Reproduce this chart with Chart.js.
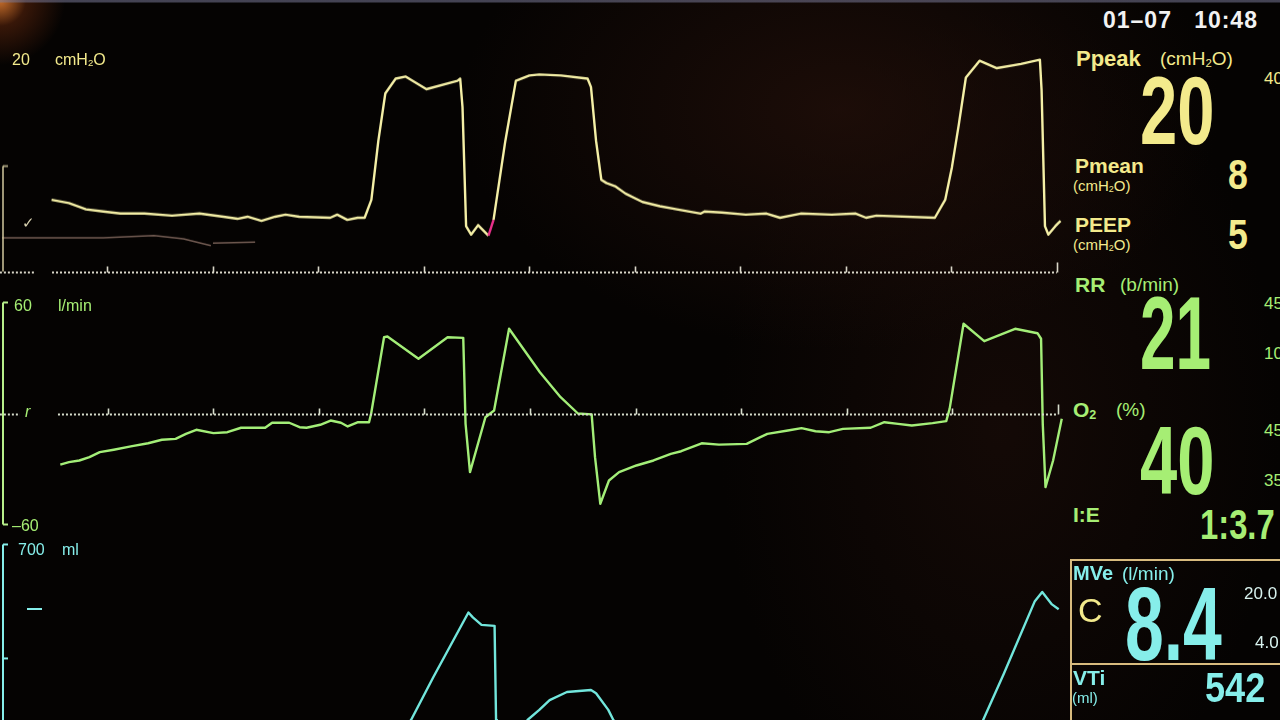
<!DOCTYPE html>
<html>
<head>
<meta charset="utf-8">
<script src="https://cdn.jsdelivr.net/npm/chart.js@4.4.1/dist/chart.umd.min.js"></script>
<style>
  html, body { margin: 0; padding: 0; }
  body {
    width: 1280px; height: 720px; overflow: hidden; position: relative;
    font-family: "Liberation Sans", Arial, sans-serif;
    background:
      linear-gradient(to bottom, rgba(120,120,150,0.55) 0, rgba(120,120,150,0.55) 2px, rgba(0,0,0,0) 3px),
      radial-gradient(circle at 0 0, rgba(235,130,50,0.85) 0, rgba(150,60,20,0.35) 26px, rgba(0,0,0,0) 65px),
      radial-gradient(ellipse 380px 240px at 840px 110px, rgba(36,16,10,0.75), rgba(0,0,0,0)),
      radial-gradient(ellipse 280px 420px at 1000px 430px, rgba(26,12,8,0.7), rgba(0,0,0,0)),
      #050302;
  }
  .panel { position: absolute; left: 0; width: 1070px; }
  .t { position: absolute; line-height: 1; white-space: nowrap; }
  .b { font-weight: bold; }
  .big { font-weight: bold; display: inline-block; transform-origin: 0 0; }
  sub { font-size: 60%; vertical-align: -0.15em; line-height: 0; }
  .y { color: #f3ea8c; }
  .g { color: #a6ee74; }
  .c { color: #86eeea; }
  .w { color: #f2f2f2; }
  #mveBox { position: absolute; left: 1070px; top: 559px; width: 220px; height: 200px;
            border: 2px solid #d8bb7e; box-sizing: border-box; }
  #mveDiv { position: absolute; left: 1070px; top: 663px; width: 220px; height: 0;
            border-top: 2px solid #d8bb7e; }
</style>
</head>
<body>

<div class="panel" style="top:49.4px;height:233.2px"><canvas id="chartPressure"></canvas></div>
<div class="panel" style="top:283.5px;height:259px"><canvas id="chartFlow"></canvas></div>
<div class="panel" style="top:526.6px;height:262.9px"><canvas id="chartVolume"></canvas></div>

<!-- waveform scale labels -->
<div class="t y" style="left:12px;top:52px;font-size:16px">20</div>
<div class="t y" style="left:55px;top:52px;font-size:16px">cmH<sub>2</sub>O</div>
<div class="t" style="left:22px;top:215px;font-size:15px;color:#d8d2b0">✓</div>
<div class="t g" style="left:14px;top:298px;font-size:16px">60</div>
<div class="t g" style="left:58px;top:298px;font-size:16px">l/min</div>
<div class="t g" style="left:25px;top:404px;font-size:16px;font-style:italic">r</div>
<div class="t g" style="left:12px;top:518px;font-size:16px">–60</div>
<div class="t c" style="left:18px;top:542px;font-size:16px">700</div>
<div class="t c" style="left:62px;top:542px;font-size:16px">ml</div>
<div style="position:absolute;left:27px;top:608px;width:15px;border-top:2px solid #86eeea"></div>

<!-- numeric readouts -->
<div class="t w b" style="left:1103px;top:9px;font-size:23px;letter-spacing:1px">01–07&nbsp;&nbsp;&nbsp;10:48</div>

<div class="t y b" style="left:1076px;top:48px;font-size:22px">Ppeak</div>
<div class="t y" style="left:1160px;top:49px;font-size:19px">(cmH<sub>2</sub>O)</div>
<div class="t y" style="left:1264px;top:70px;font-size:17px">40</div>
<div class="t y" style="left:1140px;top:62px;font-size:97px"><span class="big" style="transform:scaleX(0.69)">20</span></div>

<div class="t y b" style="left:1075px;top:155px;font-size:21px">Pmean</div>
<div class="t y" style="left:1073px;top:178px;font-size:15px">(cmH<sub>2</sub>O)</div>
<div class="t y" style="left:1228px;top:154px;font-size:42px"><span class="big" style="transform:scaleX(0.85)">8</span></div>

<div class="t y b" style="left:1075px;top:214px;font-size:21px">PEEP</div>
<div class="t y" style="left:1073px;top:237px;font-size:15px">(cmH<sub>2</sub>O)</div>
<div class="t y" style="left:1228px;top:214px;font-size:42px"><span class="big" style="transform:scaleX(0.85)">5</span></div>

<div class="t g b" style="left:1075px;top:274px;font-size:21px">RR</div>
<div class="t g" style="left:1120px;top:275px;font-size:19px">(b/min)</div>
<div class="t g" style="left:1264px;top:295px;font-size:17px">45</div>
<div class="t g" style="left:1264px;top:345px;font-size:17px">10</div>
<div class="t g" style="left:1140px;top:282px;font-size:103px"><span class="big" style="transform:scaleX(0.62)">21</span></div>

<div class="t g b" style="left:1073px;top:399px;font-size:21px">O<sub>2</sub></div>
<div class="t g" style="left:1116px;top:400px;font-size:19px">(%)</div>
<div class="t g" style="left:1264px;top:422px;font-size:17px">45</div>
<div class="t g" style="left:1264px;top:472px;font-size:17px">35</div>
<div class="t g" style="left:1140px;top:412px;font-size:97px"><span class="big" style="transform:scaleX(0.69)">40</span></div>

<div class="t g b" style="left:1073px;top:504px;font-size:21px">I:E</div>
<div class="t g" style="left:1200px;top:504px;font-size:42px"><span class="big" style="transform:scaleX(0.78)">1:3.7</span></div>

<div id="mveBox"></div>
<div id="mveDiv"></div>
<div class="t c b" style="left:1073px;top:563px;font-size:20px">MVe</div>
<div class="t c" style="left:1122px;top:564px;font-size:19px">(l/min)</div>
<div class="t y" style="left:1078px;top:593px;font-size:34px">C</div>
<div class="t c" style="left:1125px;top:572px;font-size:104px"><span class="big" style="transform:scaleX(0.67)">8.4</span></div>
<div class="t" style="left:1244px;top:585px;font-size:17px;color:#d8f2ee">20.0</div>
<div class="t" style="left:1255px;top:634px;font-size:17px;color:#d8f2ee">4.0</div>

<div class="t c b" style="left:1073px;top:667px;font-size:21px">VTi</div>
<div class="t c" style="left:1072px;top:690px;font-size:15px">(ml)</div>
<div class="t c" style="left:1205px;top:667px;font-size:42px"><span class="big" style="transform:scaleX(0.86)">542</span></div>

<script>
// sweep time axis, seconds
const timeTicks = [0.5, 1.0, 1.5, 2.0, 2.5, 3.0, 3.5, 4.0, 4.5, 5.0];

// airway pressure, cmH2O
const pressureTime = [0.235, 0.317, 0.398, 0.480, 0.561, 0.675, 0.806, 0.936, 1.050, 1.116, 1.164,
  1.230, 1.295, 1.344, 1.409, 1.556, 1.589, 1.637, 1.686, 1.719,
  1.751, 1.784, 1.817, 1.866, 1.914, 2.012, 2.159, 2.172, 2.183, 2.200, 2.224, 2.257, 2.306, 2.330,
  2.386, 2.436, 2.500, 2.547, 2.65, 2.776, 2.792, 2.816, 2.841, 2.865, 2.906, 2.955, 3.036, 3.118,
  3.199, 3.313, 3.330, 3.411, 3.526, 3.624, 3.688, 3.786, 3.933, 4.047, 4.096, 4.145, 4.422,
  4.471, 4.503, 4.536, 4.569, 4.634, 4.716, 4.830, 4.920,
  4.928, 4.944, 4.960, 4.993, 5.018];
const pressureValues = [6.8, 6.5, 5.9, 5.7, 5.5, 5.5, 5.3, 5.5, 5.2, 5.0, 5.2,
  4.8, 5.2, 5.4, 5.2, 5.1, 5.4, 4.9, 5.1, 5.1,
  6.8, 12.4, 16.9, 18.3, 18.5, 17.3, 18.1, 18.3, 15.6, 4.3, 3.5, 4.4, 3.4, 4.9,
  12.4, 18.1, 18.6, 18.7, 18.6, 18.3, 17.5, 12.4, 8.7, 8.4, 8.1, 7.4, 6.6, 6.2,
  5.9, 5.5, 5.7, 5.6, 5.4, 5.5, 5.1, 5.5, 5.4, 5.5, 5.1, 5.3, 5.1,
  6.8, 9.9, 14.0, 18.4, 20.0, 19.3, 19.7, 20.1,
  17.2, 4.3, 3.5, 4.3, 4.8];
// fading remnant of the previous sweep
const ghostTime = [0.0, 0.48, 0.72, 0.86, 0.99, 0.995, 1.0, 1.2];
const ghostValues = [3.2, 3.2, 3.4, 3.1, 2.45, null, 2.7, 2.8];
const triggerWindow = [2.30, 2.345];

// flow, l/min
const flowTime = [0.276, 0.317, 0.366, 0.414, 0.463, 0.529, 0.610, 0.692, 0.757, 0.822, 0.871,
  0.920, 1.001, 1.067, 1.132, 1.246, 1.279, 1.360, 1.409, 1.442, 1.507, 1.556, 1.605, 1.637,
  1.686, 1.738, 1.748, 1.809, 1.825, 1.972, 2.110, 2.184, 2.195, 2.216, 2.289,
  2.330, 2.401, 2.547, 2.645, 2.727, 2.792, 2.808, 2.833, 2.874, 2.922, 3.004, 3.085, 3.167,
  3.216, 3.313, 3.395, 3.526, 3.591, 3.624, 3.721, 3.786, 3.852, 3.917, 3.982, 4.113, 4.178,
  4.243, 4.308, 4.406, 4.471, 4.487, 4.553, 4.651, 4.797, 4.903, 4.920,
  4.928, 4.941, 4.977, 5.018];
const flowValues = [-27.6, -26.3, -25.4, -23.6, -20.9, -19.6, -17.8, -16.1, -14.2, -13.7, -11.0,
  -8.8, -10.6, -10.1, -7.7, -7.7, -5.0, -5.0, -7.4, -7.7, -6.1, -3.8, -5.0, -7.0,
  -4.7, -4.7, 0, 41.2, 41.6, 29.6, 41.2, 40.9, -5.6, -31.7, -2.0,
  1.6, 45.8, 22.3, 8.8, 0, -0.5, -23.6, -48.8, -36.2, -31.7, -28.1, -25.4, -21.8,
  -20.4, -16.1, -16.8, -16.4, -12.8, -11.0, -9.2, -7.9, -9.6, -10.1, -8.3, -7.7, -4.7,
  -5.6, -6.5, -5.2, -4.1, 2.5, 48.5, 39.1, 45.8, 43.4, 40.4,
  -5.6, -39.8, -25.4, -2.9];

// volume, ml
const volumeTime = [0.235, 1.766, 1.939, 2.045, 2.211, 2.232, 2.273, 2.335, 2.342, 2.346, 2.358,
  2.491, 2.547, 2.596, 2.678, 2.792, 2.816, 2.874, 2.898, 3.068, 4.536, 4.651, 4.749, 4.896,
  4.931, 4.977, 5.009];
const volumeValues = [0, 0, 161, 293, 491, 476, 453, 450, 161, 0, 0,
  161, 192, 222, 247, 253, 243, 192, 161, 0, 0, 161, 303, 526,
  554, 516, 501];

const X_MAX = 5.057;

function toPoints(xs, ys) {
  return xs.map((x, i) => ({ x: x, y: ys[i] }));
}

// dotted zero line, time ticks and the scale bracket on the left
const monitorDecor = {
  id: 'monitorDecor',
  afterDatasetsDraw(chart, args, opts) {
    const ctx = chart.ctx;
    const xs = chart.scales.x, ys = chart.scales.y;
    ctx.save();
    if (opts.baseline) {
      const yb = Math.round(ys.getPixelForValue(0)) + 0.5;
      ctx.strokeStyle = opts.baseline.color;
      ctx.lineWidth = 2;
      ctx.setLineDash([2, 2]);
      opts.baseline.spans.forEach(s => {
        ctx.beginPath();
        ctx.moveTo(xs.getPixelForValue(s[0]), yb);
        ctx.lineTo(xs.getPixelForValue(s[1]), yb);
        ctx.stroke();
      });
      ctx.setLineDash([]);
      ctx.lineWidth = 1.6;
      timeTicks.forEach((t, i) => {
        const px = Math.round(xs.getPixelForValue(t)) + 0.5;
        const h = i === timeTicks.length - 1 ? 10 : 6;
        ctx.beginPath();
        ctx.moveTo(px, yb);
        ctx.lineTo(px, yb - h);
        ctx.stroke();
      });
    }
    if (opts.bracket) {
      const br = opts.bracket;
      const bx = chart.chartArea.left + 1;
      ctx.strokeStyle = br.color;
      ctx.lineWidth = 2;
      ctx.beginPath();
      ctx.moveTo(bx, ys.getPixelForValue(br.from));
      ctx.lineTo(bx, ys.getPixelForValue(br.to));
      ctx.stroke();
      br.serifs.forEach(v => {
        const py = ys.getPixelForValue(v);
        ctx.beginPath();
        ctx.moveTo(bx, py);
        ctx.lineTo(bx + 5, py);
        ctx.stroke();
      });
    }
    ctx.restore();
  }
};

function monitorOptions(yMin, yMax, decor) {
  return {
    responsive: true,
    maintainAspectRatio: false,
    animation: false,
    events: [],
    layout: { padding: { left: 2, right: 0, top: 0, bottom: 0 } },
    elements: { point: { radius: 0 }, line: { tension: 0, borderJoinStyle: 'round' } },
    scales: {
      x: { type: 'linear', display: false, min: 0, max: X_MAX },
      y: { display: false, min: yMin, max: yMax }
    },
    plugins: { legend: { display: false }, tooltip: { enabled: false }, monitorDecor: decor }
  };
}

new Chart(document.getElementById('chartPressure'), {
  type: 'line',
  data: {
    datasets: [
      {
        label: 'ghost',
        data: toPoints(ghostTime, ghostValues),
        borderColor: 'rgba(205,165,150,0.55)',
        borderWidth: 1.5,
        spanGaps: false,
        clip: false
      },
      {
        label: 'Paw',
        data: toPoints(pressureTime, pressureValues),
        borderColor: '#f4efa6',
        borderWidth: 2.4,
        clip: false,
        segment: {
          borderColor: c => (c.p0.parsed.x >= triggerWindow[0] && c.p1.parsed.x <= triggerWindow[1]) ? '#e8308a' : undefined
        }
      }
    ]
  },
  options: monitorOptions(-1, 21, {
    baseline: { color: '#d9d6c8', spans: [[-0.01, 0.156], [0.237, 5.0]] },
    bracket: { color: 'rgba(225,215,170,0.7)', from: 10, to: 0, serifs: [10] }
  }),
  plugins: [monitorDecor]
});

new Chart(document.getElementById('chartFlow'), {
  type: 'line',
  data: {
    datasets: [{
      label: 'Flow',
      data: toPoints(flowTime, flowValues),
      borderColor: '#a3ee78',
      borderWidth: 2.4,
      clip: false
    }]
  },
  options: monitorOptions(-70, 70, {
    baseline: { color: '#d6dccb', spans: [[-0.01, 0.085], [0.265, 5.0]] },
    bracket: { color: '#b7ef8a', from: 60, to: -60, serifs: [60, -60] }
  }),
  plugins: [monitorDecor]
});

new Chart(document.getElementById('chartVolume'), {
  type: 'line',
  data: {
    datasets: [{
      label: 'Volume',
      data: toPoints(volumeTime, volumeValues),
      borderColor: '#72e6dc',
      borderWidth: 2.4,
      clip: false
    }]
  },
  options: monitorOptions(-50, 750, {
    bracket: { color: '#86eeea', from: 700, to: -50, serifs: [700, 350] }
  }),
  plugins: [monitorDecor]
});
</script>
</body>
</html>
